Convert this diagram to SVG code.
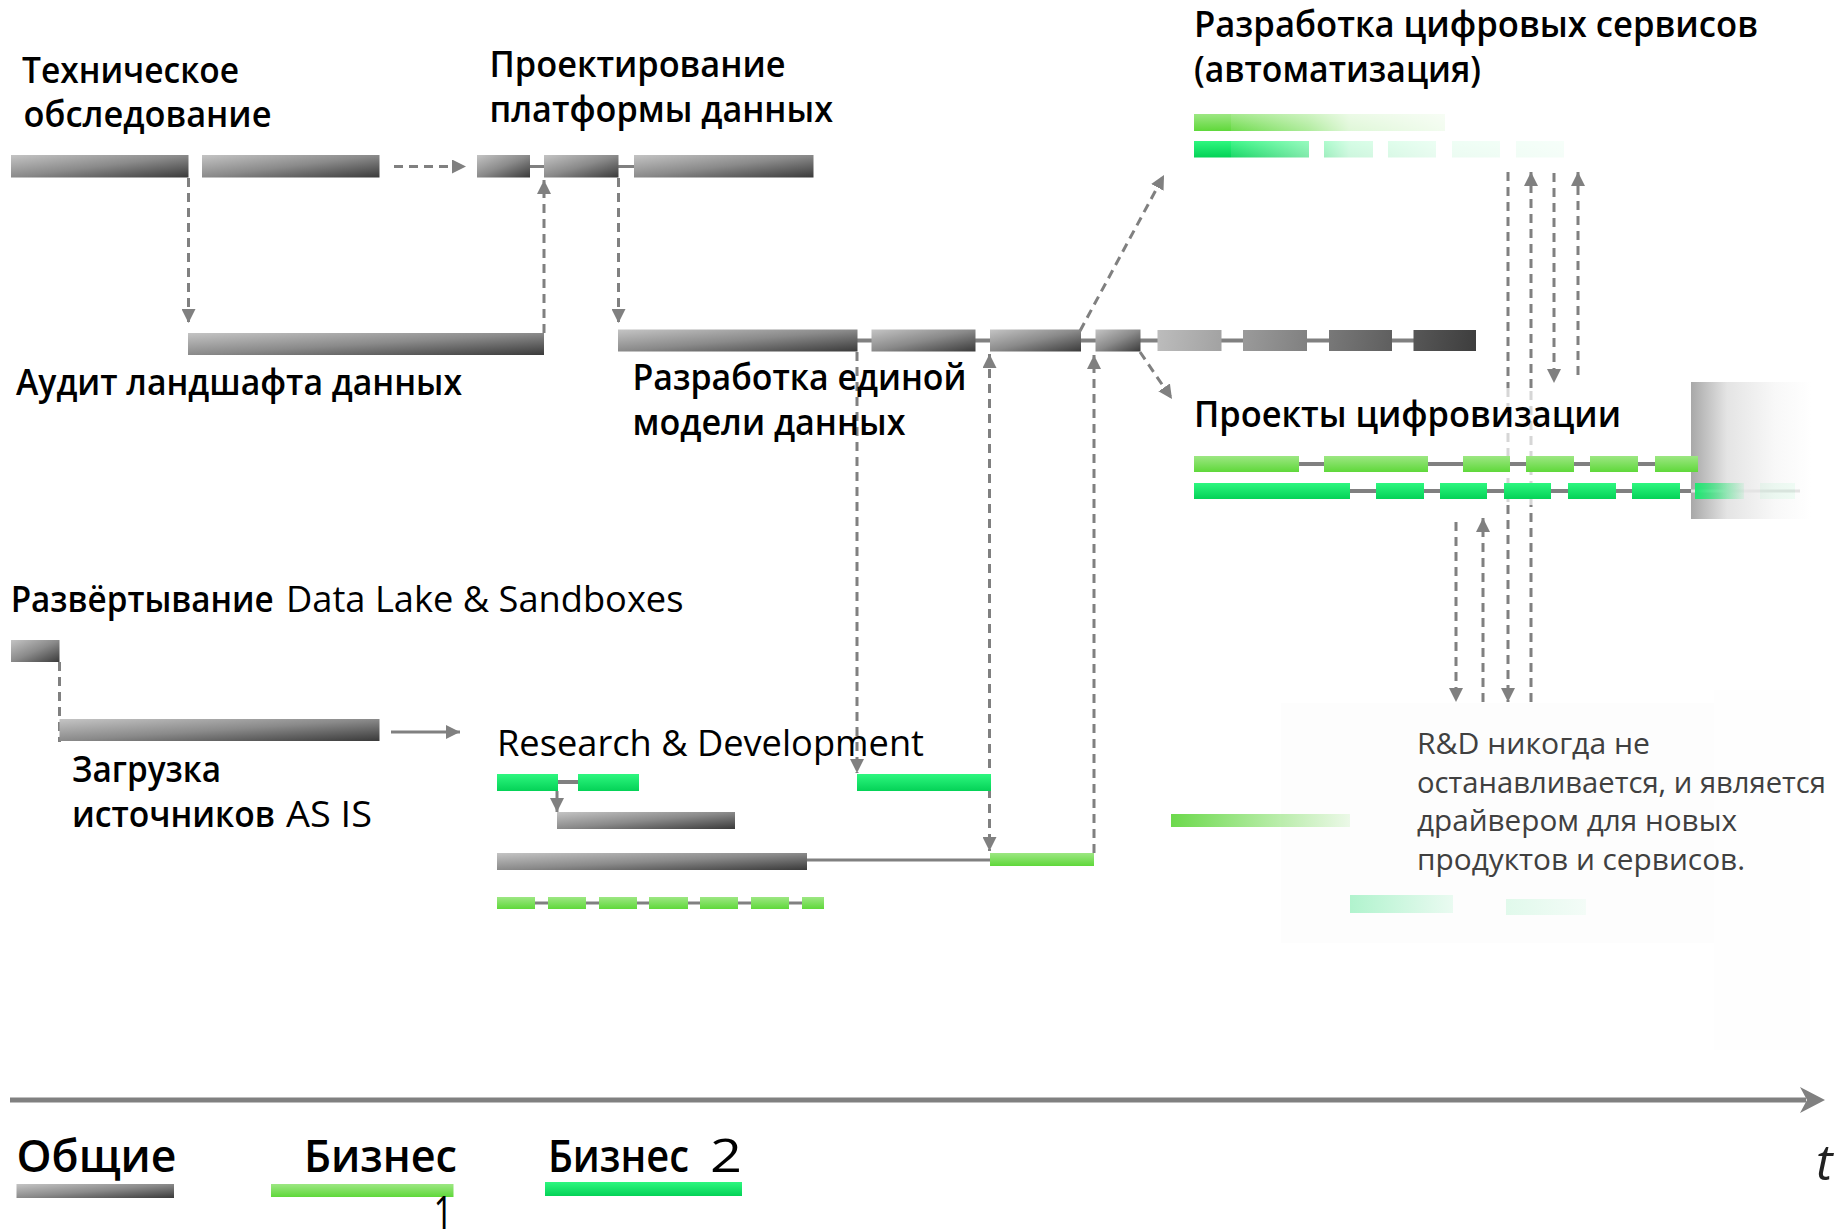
<svg xmlns="http://www.w3.org/2000/svg" width="1847" height="1230" viewBox="0 0 1847 1230">
<defs>
  <linearGradient id="gGray" x1="0" y1="0" x2="1" y2="1">
    <stop offset="0" stop-color="#c4c4c4"/>
    <stop offset="0.5" stop-color="#8a8a8a"/>
    <stop offset="1" stop-color="#3a3a3a"/>
  </linearGradient>
  <linearGradient id="gGrayR" gradientUnits="userSpaceOnUse" x1="1157" y1="322" x2="1476" y2="372">
    <stop offset="0" stop-color="#bdbdbd"/>
    <stop offset="1" stop-color="#3c3c3c"/>
  </linearGradient>
  <linearGradient id="gB1" x1="0" y1="0" x2="0" y2="1">
    <stop offset="0" stop-color="#9de783"/>
    <stop offset="1" stop-color="#5fd83a"/>
  </linearGradient>
  <linearGradient id="gB2" x1="0" y1="0" x2="0" y2="1">
    <stop offset="0" stop-color="#2ef77f"/>
    <stop offset="1" stop-color="#04d257"/>
  </linearGradient>
  <linearGradient id="gFadeW" gradientUnits="userSpaceOnUse" x1="1231" y1="0" x2="1600" y2="0">
    <stop offset="0" stop-color="#fff" stop-opacity="0.1"/>
    <stop offset="0.21" stop-color="#fff" stop-opacity="0.5"/>
    <stop offset="0.32" stop-color="#fff" stop-opacity="0.8"/>
    <stop offset="0.58" stop-color="#fff" stop-opacity="0.92"/>
    <stop offset="1" stop-color="#fff" stop-opacity="0.97"/>
  </linearGradient>
  <linearGradient id="gBox" x1="0" y1="0" x2="1" y2="0">
    <stop offset="0" stop-color="#a8a8a8"/>
    <stop offset="0.3" stop-color="#e4e4e4"/>
    <stop offset="0.7" stop-color="#f8f8f8"/>
    <stop offset="1" stop-color="#ffffff"/>
  </linearGradient>
  <linearGradient id="gFadeB2" x1="0" y1="0" x2="1" y2="0">
    <stop offset="0" stop-color="#20e872"/>
    <stop offset="1" stop-color="#20e872" stop-opacity="0.08"/>
  </linearGradient>
  <linearGradient id="gFadeB1" x1="0" y1="0" x2="1" y2="0">
    <stop offset="0" stop-color="#6cd94c"/>
    <stop offset="1" stop-color="#6cd94c" stop-opacity="0.12"/>
  </linearGradient>
  <linearGradient id="gFadeMint" x1="0" y1="0" x2="1" y2="0">
    <stop offset="0" stop-color="#3ee486" stop-opacity="0.4"/>
    <stop offset="1" stop-color="#3ee486" stop-opacity="0.1"/>
  </linearGradient>
  <linearGradient id="gFadeMint2" x1="0" y1="0" x2="1" y2="0">
    <stop offset="0" stop-color="#3ee486" stop-opacity="0.15"/>
    <stop offset="1" stop-color="#3ee486" stop-opacity="0.05"/>
  </linearGradient>
  <marker id="ah" markerUnits="userSpaceOnUse" markerWidth="14" markerHeight="14" refX="14" refY="7" orient="auto-start-reverse" viewBox="0 0 14 14">
    <path d="M0,0 L14,7 L0,14 z" fill="#808080"/>
  </marker>
  <style>
    .dash { stroke:#808080; stroke-width:3; stroke-dasharray:9 6; fill:none; }
    .dashL { stroke:#d6d6d6; stroke-width:3; stroke-dasharray:9 6; fill:none; }
    .sol { stroke:#808080; stroke-width:3; fill:none; }
    .solT { stroke:#808080; stroke-width:4; fill:none; }
    .gray { fill:url(#gGray); }
    .grayR { fill:url(#gGrayR); }
    .b1 { fill:url(#gB1); }
    .b2 { fill:url(#gB2); }
    .h { font-family:"Open Sans","Noto Sans","DejaVu Sans",sans-serif; font-weight:600; font-size:36px; fill:#000; }
    .r { font-family:"Open Sans","Noto Sans","DejaVu Sans",sans-serif; font-weight:400; font-size:36px; fill:#000; }
    .note { font-family:"Open Sans","Noto Sans","DejaVu Sans",sans-serif; font-weight:400; font-size:29px; fill:#404040; }
    .lg { font-family:"Open Sans","Noto Sans","DejaVu Sans",sans-serif; font-weight:600; font-size:45px; fill:#000; }
    .lgr { font-family:"Open Sans","Noto Sans","DejaVu Sans",sans-serif; font-weight:400; font-size:45px; fill:#000; }
  </style>
</defs>
<rect width="1847" height="1230" fill="#ffffff"/>

<!-- faint background panels -->
<rect x="1281" y="703" width="433" height="240" fill="#fdfdfd"/>
<rect x="1714" y="690" width="96" height="360" fill="#fefefe"/>

<!-- connectors -->
<g id="connectors">
  <!-- row 1 -->
  <line class="sol" x1="530" y1="166.5" x2="544" y2="166.5"/>
  <line class="sol" x1="618" y1="166.5" x2="634" y2="166.5"/>
  <line class="dash" x1="394" y1="166.5" x2="466" y2="166.5" marker-end="url(#ah)"/>
  <line class="dash" x1="188.5" y1="178" x2="188.5" y2="323" marker-end="url(#ah)"/>
  <line class="dash" x1="544" y1="333" x2="544" y2="180" marker-end="url(#ah)"/>
  <line class="dash" x1="618.5" y1="178" x2="618.5" y2="323" marker-end="url(#ah)"/>
  <!-- row 2 -->
  <line class="solT" x1="857" y1="340.5" x2="1476" y2="340.5"/>
  <line class="dash" x1="1080" y1="331" x2="1164" y2="175" marker-end="url(#ah)"/>
  <line class="dash" x1="1140" y1="352" x2="1172" y2="399" marker-end="url(#ah)"/>
  <line class="dash" x1="857" y1="352" x2="857" y2="773" marker-end="url(#ah)"/>
  <line class="dash" x1="989.5" y1="354" x2="989.5" y2="851" marker-start="url(#ah)" marker-end="url(#ah)"/>
  <line class="dash" x1="1094" y1="853" x2="1094" y2="355" marker-end="url(#ah)"/>
  <!-- right verticals -->
  <line class="dash" x1="1508" y1="172" x2="1508" y2="388"/>
  <line class="dashL" x1="1508" y1="388" x2="1508" y2="505"/>
  <line class="dash" x1="1508" y1="505" x2="1508" y2="702" marker-end="url(#ah)"/>
  <line class="dash" x1="1531" y1="702" x2="1531" y2="505"/>
  <line class="dashL" x1="1531" y1="505" x2="1531" y2="388"/>
  <line class="dash" x1="1531" y1="388" x2="1531" y2="172" marker-end="url(#ah)"/>
  <line class="dash" x1="1554" y1="173" x2="1554" y2="383" marker-end="url(#ah)"/>
  <line class="dash" x1="1578" y1="375" x2="1578" y2="172" marker-end="url(#ah)"/>
  <line class="dash" x1="1456" y1="522" x2="1456" y2="702" marker-end="url(#ah)"/>
  <line class="dash" x1="1483" y1="702" x2="1483" y2="518" marker-end="url(#ah)"/>
  <!-- Проекты rows -->
  <line class="solT" x1="1194" y1="464" x2="1691" y2="464"/>
  <line class="solT" x1="1194" y1="491" x2="1691" y2="491"/>
  <!-- lower left -->
  <line class="dash" x1="59.5" y1="662" x2="59.5" y2="742"/>
  <line class="sol" x1="391" y1="732" x2="460" y2="732" marker-end="url(#ah)"/>
  <line class="solT" x1="558" y1="782" x2="578" y2="782"/>
  <line class="sol" x1="557" y1="791" x2="557" y2="812" marker-end="url(#ah)"/>
  <line class="sol" x1="807" y1="860" x2="990" y2="860"/>
  <line class="sol" x1="497" y1="903" x2="824" y2="903"/>
  <!-- time axis -->
  <line x1="10" y1="1100" x2="1806" y2="1100" stroke="#808080" stroke-width="5"/>
  <polygon points="1825,1100 1800,1087 1807,1100 1800,1113" fill="#808080"/>
</g>

<!-- Техническое обследование -->
<g id="tech-survey">
  <text class="h" x="22" y="83" textLength="217" lengthAdjust="spacingAndGlyphs">Техническое</text>
  <text class="h" x="23.5" y="127" textLength="248" lengthAdjust="spacingAndGlyphs">обследование</text>
  <rect class="gray" x="11" y="155" width="177.5" height="22.5"/>
  <rect class="gray" x="202" y="155" width="177.5" height="22.5"/>
</g>

<!-- Аудит ландшафта данных -->
<g id="audit">
  <rect class="gray" x="188" y="333" width="356" height="22"/>
  <text class="h" x="16" y="395" textLength="446" lengthAdjust="spacingAndGlyphs">Аудит ландшафта данных</text>
</g>

<!-- Проектирование платформы данных -->
<g id="platform-design">
  <text class="h" x="489.5" y="77" textLength="296" lengthAdjust="spacingAndGlyphs">Проектирование</text>
  <text class="h" x="489.5" y="122" textLength="343.5" lengthAdjust="spacingAndGlyphs">платформы данных</text>
  <rect class="gray" x="477" y="155" width="53" height="22.5"/>
  <rect class="gray" x="544" y="155" width="74.5" height="22.5"/>
  <rect class="gray" x="634" y="155" width="179.5" height="22.5"/>
</g>

<!-- Разработка единой модели данных -->
<g id="unified-model">
  <rect class="gray" x="618" y="329.5" width="239.5" height="22"/>
  <rect class="gray" x="871.5" y="329.5" width="104" height="22"/>
  <rect class="gray" x="990" y="329.5" width="91" height="22"/>
  <rect class="gray" x="1095.5" y="329.5" width="45" height="22"/>
  <rect class="grayR" x="1157.5" y="330" width="64" height="21"/>
  <rect class="grayR" x="1243" y="330" width="64" height="21"/>
  <rect class="grayR" x="1329" y="330" width="63" height="21"/>
  <rect class="grayR" x="1413.5" y="330" width="62.5" height="21"/>
  <text class="h" x="632.5" y="390" textLength="334" lengthAdjust="spacingAndGlyphs">Разработка единой</text>
  <text class="h" x="632.5" y="435" textLength="273" lengthAdjust="spacingAndGlyphs">модели данных</text>
</g>

<!-- Разработка цифровых сервисов -->
<g id="digital-services">
  <text class="h" x="1194" y="37" textLength="564" lengthAdjust="spacingAndGlyphs">Разработка цифровых сервисов</text>
  <text class="h" x="1194" y="82" textLength="287" lengthAdjust="spacingAndGlyphs">(автоматизация)</text>
  <rect class="b1" x="1194" y="114" width="251" height="17"/>
  <rect class="b2" x="1194" y="141" width="115" height="16.5"/>
  <rect class="b2" x="1324" y="141" width="49" height="16.5"/>
  <rect class="b2" x="1388" y="141" width="48" height="16.5"/>
  <rect class="b2" x="1452" y="141" width="48" height="16.5"/>
  <rect class="b2" x="1516" y="141" width="48" height="16.5"/>
  <rect x="1231" y="106" width="370" height="58" fill="url(#gFadeW)"/>
</g>

<!-- Проекты цифровизации -->
<g id="digitalization">
  <text class="h" x="1194" y="427" textLength="427" lengthAdjust="spacingAndGlyphs">Проекты цифровизации</text>
  <rect x="1691" y="382" width="120" height="137" fill="url(#gBox)"/>
  <line x1="1691" y1="491" x2="1800" y2="491" stroke="#e4e4e4" stroke-width="3"/>
  <rect class="b1" x="1194" y="456" width="105" height="16"/>
  <rect class="b1" x="1324" y="456" width="104" height="16"/>
  <rect class="b1" x="1463" y="456" width="47" height="16"/>
  <rect class="b1" x="1526" y="456" width="48" height="16"/>
  <rect class="b1" x="1590" y="456" width="48" height="16"/>
  <rect class="b1" x="1655" y="456" width="43" height="16"/>
  <rect class="b2" x="1194" y="483" width="156" height="16"/>
  <rect class="b2" x="1376" y="483" width="48" height="16"/>
  <rect class="b2" x="1440" y="483" width="47" height="16"/>
  <rect class="b2" x="1504" y="483" width="47" height="16"/>
  <rect class="b2" x="1568" y="483" width="48" height="16"/>
  <rect class="b2" x="1632" y="483" width="48" height="16"/>
  <rect x="1695" y="483" width="49" height="16" fill="url(#gFadeB2)"/>
  <rect x="1760" y="483" width="35" height="16" fill="#20e872" fill-opacity="0.06"/>
</g>

<!-- Развёртывание Data Lake & Sandboxes -->
<g id="data-lake">
  <text class="h" x="10.7" y="612" textLength="263" lengthAdjust="spacingAndGlyphs">Развёртывание</text>
  <text class="r" x="286" y="612" textLength="397.5" lengthAdjust="spacingAndGlyphs">Data Lake &amp; Sandboxes</text>
  <rect class="gray" x="11" y="640" width="48.5" height="22"/>
</g>

<!-- Загрузка источников AS IS -->
<g id="source-load">
  <rect class="gray" x="59.5" y="719" width="320" height="22"/>
  <text class="h" x="72" y="782" textLength="149" lengthAdjust="spacingAndGlyphs">Загрузка</text>
  <text class="h" x="72" y="827" textLength="203" lengthAdjust="spacingAndGlyphs">источников</text>
  <text class="r" x="286" y="827" textLength="86" lengthAdjust="spacingAndGlyphs">AS IS</text>
</g>

<!-- Research & Development -->
<g id="rnd">
  <text class="r" x="497" y="756" textLength="427" lengthAdjust="spacingAndGlyphs">Research &amp; Development</text>
  <rect class="b2" x="497" y="774" width="61" height="17"/>
  <rect class="b2" x="578" y="774" width="61" height="17"/>
  <rect class="gray" x="557" y="812" width="178" height="17"/>
  <rect class="gray" x="497" y="853" width="310" height="17"/>
  <rect class="b2" x="857" y="774" width="134" height="17"/>
  <rect class="b1" x="990" y="853" width="104" height="13"/>
  <rect class="b1" x="497" y="897" width="38" height="12"/>
  <rect class="b1" x="548" y="897" width="38" height="12"/>
  <rect class="b1" x="599" y="897" width="38" height="12"/>
  <rect class="b1" x="649" y="897" width="39" height="12"/>
  <rect class="b1" x="700" y="897" width="38" height="12"/>
  <rect class="b1" x="751" y="897" width="38" height="12"/>
  <rect class="b1" x="802" y="897" width="22" height="12"/>
  <rect x="1171" y="814" width="179" height="13" fill="url(#gFadeB1)"/>
  <rect x="1350" y="895" width="103" height="18" fill="url(#gFadeMint)"/>
  <rect x="1506" y="899" width="80" height="16" fill="url(#gFadeMint2)"/>
</g>

<!-- R&D note -->
<g id="rnd-note">
  <text class="note" x="1417" y="754" textLength="233" lengthAdjust="spacingAndGlyphs">R&amp;D никогда не</text>
  <text class="note" x="1417" y="792.5" textLength="409" lengthAdjust="spacingAndGlyphs">останавливается, и является</text>
  <text class="note" x="1417" y="831" textLength="320" lengthAdjust="spacingAndGlyphs">драйвером для новых</text>
  <text class="note" x="1417" y="869.5" textLength="328" lengthAdjust="spacingAndGlyphs">продуктов и сервисов.</text>
</g>

<!-- legend -->
<g id="legend-common">
  <text class="lg" x="16.5" y="1172" textLength="160" lengthAdjust="spacingAndGlyphs">Общие</text>
  <rect class="gray" x="16.5" y="1184" width="157.5" height="14"/>
</g>
<g id="legend-business1">
  <text class="lg" x="304" y="1172" textLength="153" lengthAdjust="spacingAndGlyphs">Бизнес</text>
  <rect class="b1" x="271" y="1184" width="182.5" height="13"/>
  <text class="lgr" x="433.5" y="1229" textLength="19.5" lengthAdjust="spacingAndGlyphs">1</text>
</g>
<g id="legend-business2">
  <text class="lg" x="548" y="1172" textLength="141" lengthAdjust="spacingAndGlyphs">Бизнес</text>
  <text class="lgr" x="710" y="1172" textLength="32" lengthAdjust="spacingAndGlyphs">2</text>
  <rect class="b2" x="545" y="1182" width="197" height="14"/>
</g>
<g id="axis-label">
  <text x="1816" y="1180" font-family="Open Sans, Noto Sans, sans-serif" font-style="italic" font-size="50" fill="#222">t</text>
</g>
</svg>
